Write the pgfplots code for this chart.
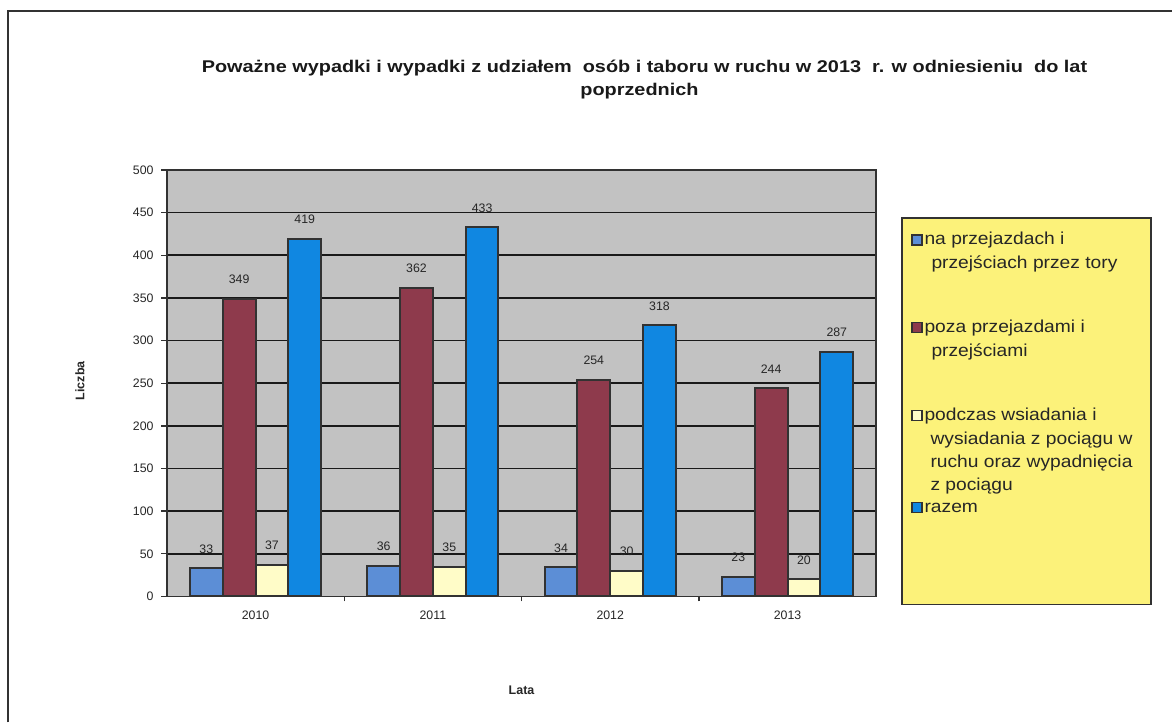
\documentclass[border=0pt]{standalone}
\usepackage{pgfplots}
\pgfplotsset{compat=1.18}
\usepackage{fontspec}
\setmainfont{Liberation Sans}
\newfontfamily\titlefont[FakeStretch=1.17]{Liberation Sans}
\newfontfamily\legfont[FakeStretch=1.11]{Liberation Sans}
\definecolor{plotgray}{RGB}{194,194,194}
\definecolor{sA}{RGB}{92,142,214}
\definecolor{sB}{RGB}{142,58,76}
\definecolor{sC}{RGB}{255,252,200}
\definecolor{sD}{RGB}{16,135,225}
\definecolor{legyellow}{RGB}{252,242,122}
\definecolor{framegray}{RGB}{50,50,50}
\begin{document}
\begin{tikzpicture}
\begin{axis}[
  at={(100.2pt,-358.2pt)}, anchor=south west,
  scale only axis, width=426pt, height=256.2pt,
  xmin=-0.5, xmax=3.5, ymin=0, ymax=500,
  ybar=0pt, bar width=0.185,
  axis background/.style={fill=plotgray},
  axis line style={framegray, line width=0.9pt},
  ytick={0,50,...,500},
  ymajorgrids, grid style={black!90, line width=0.9pt},
  xtick={0,1,2,3}, xticklabels={2010,2011,2012,2013},
  x tick style={draw=none},
  extra x ticks={0.5,1.5,2.5}, extra x tick labels={},
  extra x tick style={major tick length=3pt, tick align=outside, x tick style={draw=framegray, line width=0.8pt}, grid=none},
  y tick style={framegray, line width=0.8pt},
  tick align=outside, major tick length=3.5pt,
  xtick pos=bottom, ytick pos=left,
  ticklabel style={font=\fontsize{7.4}{8}\selectfont, text=black!85},
  /pgf/number format/assume math mode=true,
  yticklabel style={xshift=-1pt},
  xticklabel style={yshift=-1.5pt},
  nodes near coords,
  nodes near coords style={font=\fontsize{7.4}{8}\selectfont, text=black!85, yshift=5pt},
  every axis plot/.append style={draw=framegray, line width=1.2pt},
]
\addplot[fill=sA] coordinates {(0,33) (1,36) (2,34) (3,23)};
\addplot[fill=sB] coordinates {(0,349) (1,362) (2,254) (3,244)};
\addplot[fill=sC] coordinates {(0,37) (1,35) (2,30) (3,20)};
\addplot[fill=sD] coordinates {(0,419) (1,433) (2,318) (3,287)};
\end{axis}
\begin{scope}[x=0.6pt,y=-0.6pt]
\path (0,0) rectangle (1173,723);
\draw[framegray, line width=1.2pt] (8,723) -- (8,11) -- (1173,11);
% title
\node[font=\titlefont\bfseries\fontsize{10.2}{12}\selectfont, anchor=base, text=black!90] at (645,73) {Poważne wypadki i wypadki z udziałem \ osób i taboru w ruchu w 2013 \ r. w odniesieniu \ do lat};
\node[font=\titlefont\bfseries\fontsize{10.2}{12}\selectfont, anchor=base, text=black!90] at (640,96) {poprzednich};
% axis titles
\node[font=\bfseries\fontsize{7.5}{9}\selectfont, rotate=90, text=black!85] at (80,381) {Liczba};
\node[font=\bfseries\fontsize{7.5}{9}\selectfont, text=black!85] at (522,691) {Lata};
% legend
\draw[framegray, line width=1pt, fill=legyellow] (903,218) rectangle (1152,605);
\begin{scope}[every node/.style={font=\legfont\fontsize{10.4}{12}\selectfont, anchor=base west, inner sep=0pt, text=black!85}]
\draw[framegray, line width=0.9pt, fill=sA] (913,235) rectangle (923,245);
\node at (925,245) {na przejazdach i};
\node at (932,269) {przejściach przez tory};
\draw[framegray, line width=0.9pt, fill=sB] (913,323) rectangle (923,333);
\node at (925,333) {poza przejazdami i};
\node at (932,357) {przejściami};
\draw[framegray, line width=0.9pt, fill=sC] (913,411) rectangle (923,421);
\node at (925,421) {podczas wsiadania i};
\node at (931,445) {wysiadania z pociągu w};
\node at (931,468) {ruchu oraz wypadnięcia};
\node at (931,491) {z pociągu};
\draw[framegray, line width=0.9pt, fill=sD] (913,503) rectangle (923,513);
\node at (925,513) {razem};
\end{scope}
\end{scope}
\end{tikzpicture}
\end{document}
